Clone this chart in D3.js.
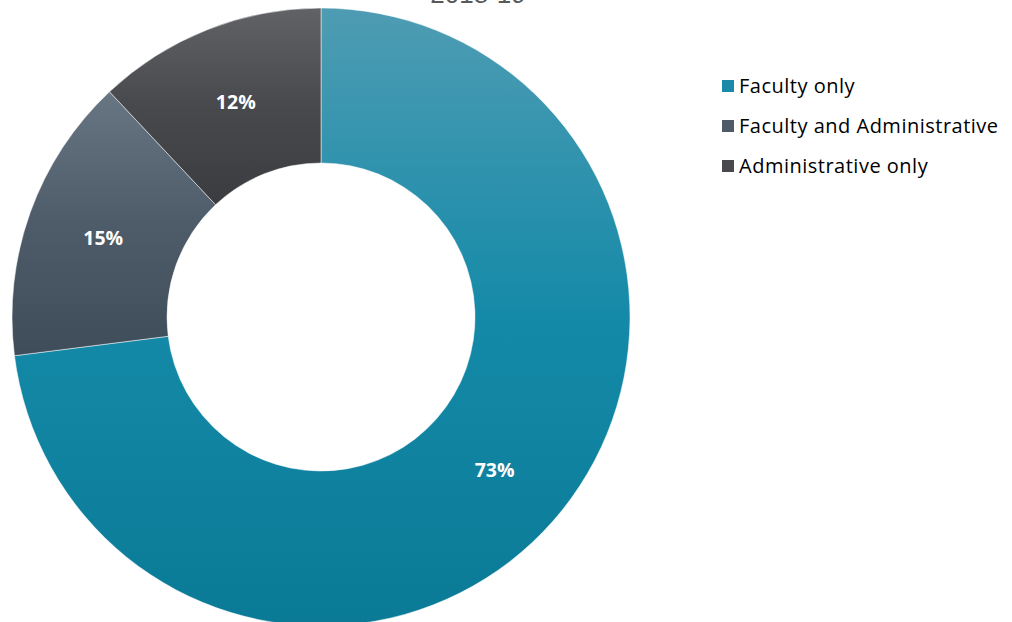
<!DOCTYPE html>
<html><head><meta charset="utf-8">
<script src="https://cdn.jsdelivr.net/npm/d3@7"></script>
<style>body{margin:0;background:#fff;}svg{display:block;}</style>
</head><body>
<svg id="c" width="1012" height="622"></svg>
<script>
const title = "2018-19";
const categories = ["Faculty only", "Faculty and Administrative", "Administrative only"];
const values = [73, 15, 12];
const topColors = ["#4e9cb3", "#687683", "#616266"];
const midColors = ["#148aa8", "#4e5c69", "#47494d"];
const bottomColors = ["#0a7a96", "#3f4d5a", "#3a3c40"];
const legendColors = ["#1a8aa8", "#4d5b68", "#47494d"];

const svg = d3.select("#c");
const cx = 321, cy = 317, R = 309, r = 154;
const defs = svg.append("defs");
categories.forEach((c, i) => {
  const g = defs.append("linearGradient").attr("id", "g" + i)
    .attr("x1", 0).attr("y1", 0).attr("x2", 0).attr("y2", 1);
  g.append("stop").attr("offset", "0%").attr("stop-color", topColors[i]);
  g.append("stop").attr("offset", "50%").attr("stop-color", midColors[i]);
  g.append("stop").attr("offset", "100%").attr("stop-color", bottomColors[i]);
});

svg.append("text").attr("x", 478).attr("y", 3).attr("text-anchor", "middle")
  .attr("font-family", "Liberation Sans, sans-serif").attr("font-size", 26)
  .attr("fill", "#595959").text(title);

const pie = d3.pie().sort(null).value(d => d);
const arcs = pie(values);
const arc = d3.arc().innerRadius(r).outerRadius(R);
const g = svg.append("g").attr("transform", `translate(${cx},${cy})`);
g.selectAll("path").data(arcs).join("path")
  .attr("d", arc).attr("fill", (d, i) => `url(#g${i})`)
  .attr("stroke", "rgba(255,255,255,0.5)").attr("stroke-width", 1);

const labelArc = d3.arc().innerRadius((r + R) / 2).outerRadius((r + R) / 2);
g.selectAll("text.lbl").data(arcs).join("text").attr("class", "lbl")
  .attr("transform", d => `translate(${labelArc.centroid(d)})`)
  .attr("text-anchor", "middle").attr("dy", "0.35em")
  .attr("font-family", "Open Sans, sans-serif").attr("font-weight", "bold")
  .attr("font-size", 19.5).attr("fill", "#fff")
  .text(d => d.data + "%");

const lg = svg.append("g");
categories.forEach((c, i) => {
  const y = 86 + i * 40;
  lg.append("rect").attr("x", 722).attr("y", y - 6).attr("width", 12).attr("height", 12)
    .attr("fill", legendColors[i]);
  lg.append("text").attr("x", 739).attr("y", y).attr("dy", "0.36em")
    .attr("font-family", "Open Sans, sans-serif").attr("font-size", 20)
    .attr("letter-spacing", 0.5)
    .attr("fill", "#000").text(c);
});
</script>
</body></html>
